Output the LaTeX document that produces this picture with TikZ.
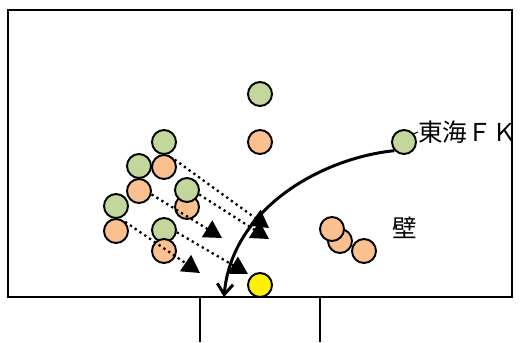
\documentclass[tikz,border=0pt]{standalone}
\usepackage{fontspec}
\newfontfamily\jpfont{Noto Sans CJK JP}
\usetikzlibrary{arrows.meta}
\definecolor{plgreen}{HTML}{C3D69B}
\definecolor{plorange}{HTML}{FAC090}
\tikzset{
  player/.style={circle, draw=black, line width=1.1pt, minimum size=0.48cm, inner sep=0pt},
  grn/.style={player, fill=plgreen},
  org/.style={player, fill=plorange},
  run/.style={dotted, line width=1.3pt, -{Triangle[length=10pt,width=11pt]}},
  kick/.style={line width=1.7pt, -{Straight Barb[length=6pt,width=9pt]}},
  lbl/.style={font=\jpfont\fontsize{14}{16}\selectfont, inner sep=0pt}
}

\begin{document}
\begin{tikzpicture}[x=0.02cm, y=-0.02cm]
    \useasboundingbox (0,0) rectangle (520,342);

    % field and goal
    \draw[line width=1.2pt] (8,10) rectangle (512,297);
    \draw[line width=1.1pt] (200,297) -- (200,342);
    \draw[line width=1.1pt] (320,297) -- (320,342);

    % attackers and defenders
    \node[grn] (g6) at (260,94) {};
    \node[org] (o6) at (260,142) {};

    \node[grn] (g1) at (164,142) {};
    \node[grn] (g2) at (139,166) {};
    \node[org] (o1) at (164,167) {};
    \node[org] (o2) at (139,191) {};
    \node[org] (o3) at (187,207) {};
    \node[grn] (g3) at (187,190) {};
    \node[grn] (g4) at (116,206) {};
    \node[org] (o4) at (116,231) {};
    \node[grn] (g5) at (164,230) {};
    \node[org] (o5) at (164,251) {};

    % wall
    \node[org] (w3) at (364,251) {};
    \node[org] (w2) at (340,241) {};
    \node[org] (w1) at (332,229) {};
    \node[lbl] (wall) at (405,228) {壁};

    % ball and kicker
    \node[player, fill=yellow] (ball) at (260,285) {};
    \node[grn] (fk) at (404,142) {};
    \node[lbl, anchor=west] (fklbl) at (418,132) {東海ＦＫ};
    \draw[line width=0.6pt] (fk.40) -- (fklbl.west);

    % runs
    \coordinate (t1) at (269,228);
    \coordinate (t2) at (269,239);
    \coordinate (t3) at (222,238);
    \coordinate (t4) at (200,273);
    \coordinate (t5) at (248,274);
    \draw[run] (o1.35) -- (t1);
    \draw[run] (g3.-20) -- (t2);
    \draw[run] (o2.-15) -- (t3);
    \draw[run] (o4.45) -- (t4);
    \draw[run] (g5.-10) -- (t5);

    % free kick
    \coordinate (kend) at (224,297);
    \draw[kick] (fk.222) .. controls (322,158) and (232,208) .. (kend);

\end{tikzpicture}
\end{document}
